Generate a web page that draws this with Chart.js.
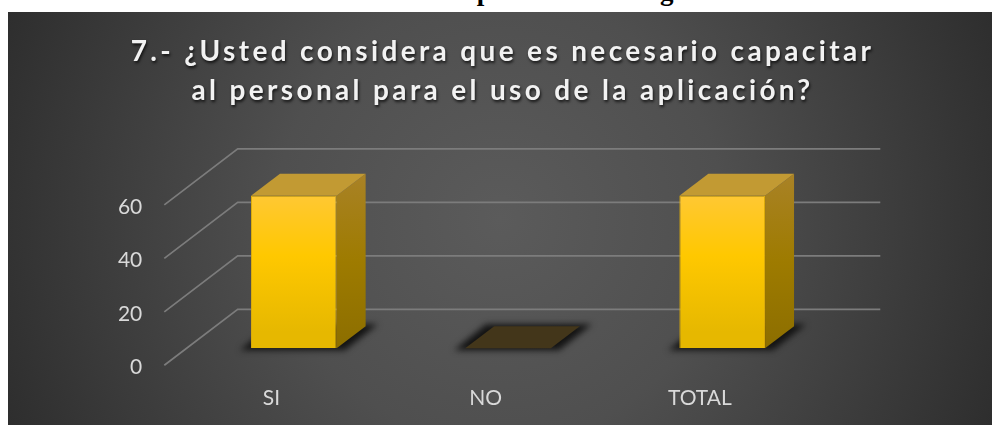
<!DOCTYPE html>
<html lang="es">
<head>
<meta charset="utf-8">
<title>Capacitación del personal</title>
<script src="https://cdn.jsdelivr.net/npm/chart.js@4"></script>
<style>
    html, body { margin: 0; padding: 0; background: #fff; overflow: hidden; }
    body { width: 992px; height: 425px; position: relative; }
    #fuente {
        position: absolute; left: 0; width: 1098px; top: -24px; text-align: center;
        font: bold 27px "Liberation Serif", serif; color: #000; line-height: 30px;
    }
    #panel {
        position: absolute; left: 8px; top: 12px; width: 984px; height: 413px;
        background: radial-gradient(circle 560px at 50% 50%, #5b5b5b 0%, #4f4f4f 40%, #3a3a3a 75%, #2b2b2b 100%);
    }
    canvas { display: block; }
</style>
</head>
<body>
<div id="fuente">Elaborado por: Los Investigadores</div>
<div id="panel"><canvas id="grafico" width="984" height="413"></canvas></div>
<script>
const categorias = ['SI', 'NO', 'TOTAL'];
const valores = [57, 0, 57];
const titulo = ['7.- ¿Usted considera que es necesario capacitar', 'al personal para el uso de la aplicación?'];

// Profundidad de la perspectiva: pared del fondo, hueco frente a la barra y fondo de la barra
const fondoX = 73.4, fondoY = 56;
const huecoX = 22.4, huecoY = 17;
const barraX = 29, barraY = 22;

function cara(ctx, puntos, relleno) {
    ctx.beginPath();
    puntos.forEach((p, i) => i ? ctx.lineTo(p[0], p[1]) : ctx.moveTo(p[0], p[1]));
    ctx.closePath();
    ctx.fillStyle = relleno;
    ctx.fill();
}

function degradado(ctx, y0, y1, paradas) {
    const g = ctx.createLinearGradient(0, y0, 0, y1);
    paradas.forEach(p => g.addColorStop(p[0], p[1]));
    return g;
}

const perspectiva = {
    id: 'perspectiva',
    afterLayout(chart) {
        // El título se centra en todo el panel, con espaciado y sombra
        const bloque = chart.titleBlock;
        bloque.left = 0;
        bloque.right = 989;
        if (bloque.dibujoOriginal) return;
        bloque.dibujoOriginal = bloque.draw;
        bloque.draw = function() {
            const ctx = chart.ctx;
            ctx.save();
            ctx.letterSpacing = '3.35px';
            ctx.shadowColor = 'rgba(0,0,0,0.75)';
            ctx.shadowBlur = 3;
            ctx.shadowOffsetX = 1;
            ctx.shadowOffsetY = 2;
            bloque.dibujoOriginal();
            ctx.restore();
        };
    },
    beforeDatasetsDraw(chart) {
        const ctx = chart.ctx;
        const area = chart.chartArea;
        const y = chart.scales.y;

        // Líneas de la cuadrícula: diagonal en el lateral y horizontal en el fondo
        ctx.save();
        ctx.strokeStyle = '#7c7c7c';
        ctx.lineWidth = 1.7;
        y.ticks.forEach(t => {
            const py = y.getPixelForValue(t.value);
            ctx.beginPath();
            ctx.moveTo(area.left, py);
            ctx.lineTo(area.left + fondoX, py - fondoY);
            ctx.lineTo(area.right + fondoX, py - fondoY);
            ctx.stroke();
        });
        ctx.restore();

        // Sombra en el suelo y caras lateral y superior de cada barra
        chart.getDatasetMeta(0).data.forEach((barra, i) => {
            const izq = barra.x - barra.width / 2 + huecoX;
            const der = barra.x + barra.width / 2 + huecoX;
            const base = barra.base - huecoY;
            const tope = barra.y - huecoY;

            ctx.save();
            ctx.filter = 'blur(3px)';
            cara(ctx, [
                [izq - 11, base + 2],
                [der + 8, base + 2],
                [der + barraX + 12, base - barraY - 2],
                [izq + barraX - 8, base - barraY - 2]
            ], '#131313');
            ctx.restore();

            if (valores[i] === 0) {
                cara(ctx, [[izq, base], [der, base], [der + barraX, base - barraY], [izq + barraX, base - barraY]], '#43361a');
                return;
            }
            cara(ctx, [[der, tope], [der + barraX, tope - barraY], [der + barraX, base - barraY], [der, base]],
                degradado(ctx, tope - barraY, base, [[0, '#a98226'], [0.5, '#9e7b00'], [1, '#8c6e00']]));
            cara(ctx, [[izq, tope], [der, tope], [der + barraX, tope - barraY], [izq + barraX, tope - barraY]], '#c29a33');
        });
    },
    // El frente de la barra queda desplazado respecto al plano de los ejes
    beforeDatasetDraw(chart) {
        chart.ctx.save();
        chart.ctx.translate(huecoX, -huecoY);
    },
    afterDatasetDraw(chart) {
        chart.ctx.restore();
    }
};

const canvas = document.getElementById('grafico');
const relleno = degradado(canvas.getContext('2d'), 184, 337, [[0, '#ffc841'], [0.5, '#ffc800'], [1, '#e6b800']]);

new Chart(canvas, {
    type: 'bar',
    data: {
        labels: categorias,
        datasets: [{
            data: valores,
            backgroundColor: relleno,
            borderColor: '#e0ae08',
            borderWidth: 1,
            categoryPercentage: 1,
            barPercentage: 0.4
        }]
    },
    options: {
        responsive: false,
        animation: false,
        layout: { padding: { right: 185.1, top: 0, bottom: 0, left: 0 } },
        plugins: {
            legend: { display: false },
            tooltip: { enabled: false },
            title: {
                display: true,
                text: titulo,
                color: '#f2f2f2',
                font: { family: 'Lato', size: 28, weight: 'bold', lineHeight: 1.39 },
                padding: { top: 21, bottom: 94 }
            }
        },
        scales: {
            x: {
                grid: { display: false },
                border: { display: false },
                ticks: { color: '#d9d9d9', font: { family: 'Lato', size: 21 }, padding: 12, maxRotation: 0 },
                afterFit: scale => { scale.height = 59.7; }
            },
            y: {
                min: 0,
                max: 60,
                grid: { display: false, drawTicks: false },
                border: { display: false },
                ticks: { stepSize: 20, color: '#d9d9d9', font: { family: 'Lato', size: 21 }, padding: 22, labelOffset: 2 },
                afterFit: scale => { scale.width = 156.3; }
            }
        }
    },
    plugins: [perspectiva]
});
</script>
</body>
</html>
